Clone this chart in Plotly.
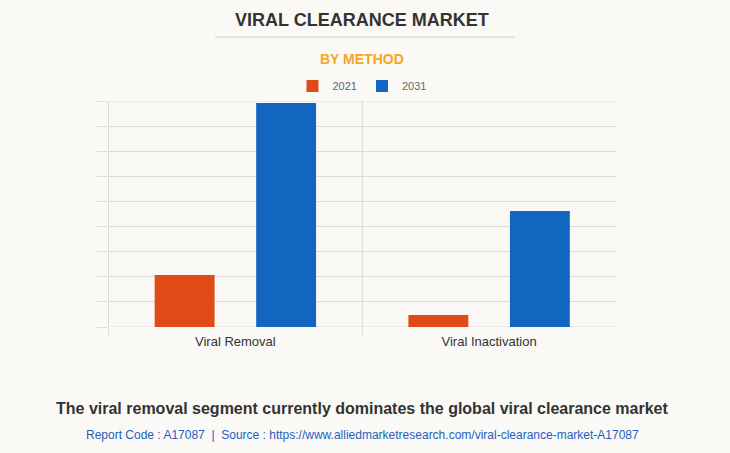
import plotly.graph_objects as go

# chart data (no axis labels shown)
methods = ["Viral Removal", "Viral Inactivation"]
years = ["2021", "2031"]
values_2021 = [2.07, 0.48]
values_2031 = [8.92, 4.62]
colors = ["#E04A17", "#1366C0"]
y_max = 9

BG = "#FAF9F5"
GRID = "#DCDBD6"

fig = go.Figure()
for year, vals, col in zip(years, [values_2021, values_2031], colors):
    fig.add_trace(go.Bar(x=methods, y=vals, name=year, marker_color=col,
                         marker_line_width=0))

plot_h = 453 - 101 - 126
def py(pix_y):
    return (453 - 126 - pix_y) / plot_h

fig.update_layout(
    width=730, height=453,
    paper_bgcolor=BG, plot_bgcolor=BG,
    margin=dict(l=108, r=114, t=101, b=126),
    barmode="group", bargap=0.2, bargroupgap=0.41,
    font=dict(family="Liberation Sans, Arial, sans-serif", color="#333333"),
    showlegend=True,
    legend=dict(orientation="h", x=0.5, xanchor="center", y=py(86), yanchor="middle",
                font=dict(size=11, color="#666666"), bgcolor="rgba(0,0,0,0)"),
)
fig.update_xaxes(
    showgrid=False, ticks="", ticklabelstandoff=5,
    tickfont=dict(size=13, color="#333333"),
    showline=False, zeroline=False,
)
fig.update_yaxes(
    range=[0, y_max], dtick=1, showticklabels=False, showgrid=True,
    gridcolor=GRID, ticks="outside", ticklen=10, tickcolor=GRID,
    zeroline=False, showline=False,
)

# edge gridlines (plotly skips gridlines sitting on the plot border)
for yb in [0, y_max]:
    fig.add_shape(type="line", xref="paper", yref="y", x0=0, x1=1, y0=yb, y1=yb,
                  line=dict(color=GRID, width=1), layer="below")

# category divider lines (left edge and between groups)
for xb in [-0.5, 0.5]:
    fig.add_shape(type="line", xref="x", yref="paper", x0=xb, x1=xb,
                  y0=-8 / plot_h, y1=1, line=dict(color=GRID, width=1), layer="below")

# titles and footer
texts = [
    ("<b>VIRAL CLEARANCE MARKET</b>", 20, 18, "#333333"),
    ("<b>BY METHOD</b>", 59, 14, "#F5A623"),
    ("<b>The viral removal segment currently dominates the global viral clearance market</b>",
     408, 16, "#333333"),
    ("Report Code : A17087  |  Source : https://www.alliedmarketresearch.com/viral-clearance-market-A17087",
     435, 12, "#1F5FBF"),
]
for txt, ypix, size, col in texts:
    fig.add_annotation(text=txt, x=0.5, y=py(ypix), xref="paper", yref="paper",
                       yanchor="middle", showarrow=False, font=dict(size=size, color=col))

fig.add_shape(type="line", xref="paper", yref="paper",
              x0=(215 - 108) / 508, x1=(515 - 108) / 508, y0=py(37), y1=py(37),
              line=dict(color="#CCCCCC", width=1))

fig.write_html("out.html", config={"displayModeBar": False},
               post_script="document.body.style.margin='0';")
